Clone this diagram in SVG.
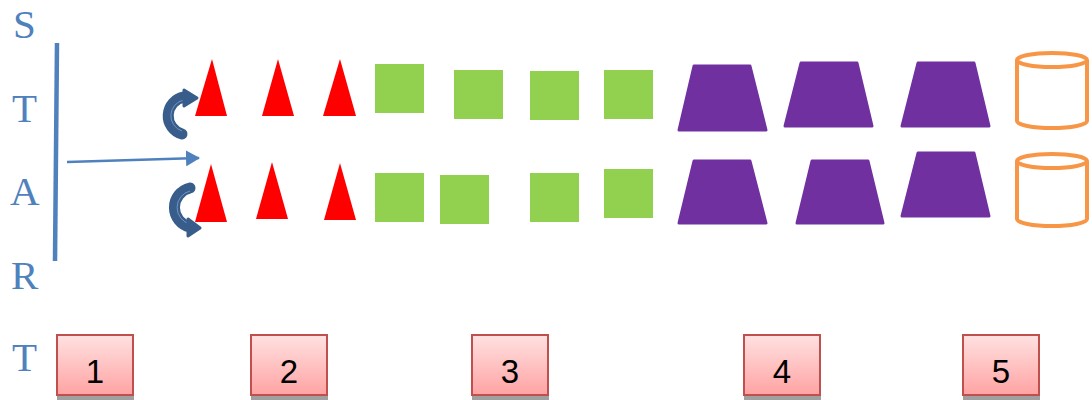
<svg xmlns="http://www.w3.org/2000/svg" width="1092" height="400" viewBox="0 0 1092 400">
<defs>
<linearGradient id="pink" x1="0" y1="0" x2="0" y2="1">
<stop offset="0" stop-color="#FFE1E1"/>
<stop offset="1" stop-color="#FFA3A3"/>
</linearGradient>
<marker id="ah" markerWidth="14" markerHeight="16" refX="13" refY="8" orient="auto" markerUnits="userSpaceOnUse" viewBox="0 0 14 16">
<path d="M0,0 L14,8 L0,16 Z" fill="#4F81BD"/>
</marker>
</defs>
<style>
.lt{font-family:"Liberation Serif","Times New Roman",serif;font-size:41px;fill:#4F81BD}
.tri{fill:#FF0000}
.sq{fill:#92D050}
.trap{fill:#7030A0;stroke:#7030A0;stroke-width:3;stroke-linejoin:round}
.cyl{fill:#FFFFFF;stroke:#F79646;stroke-width:4}
.box{fill:url(#pink);stroke:#C0504D;stroke-width:2}
.shadow{fill:#A0A0A0}
.num{font-family:"Liberation Sans",Arial,sans-serif;font-size:33px;fill:#000;text-anchor:middle}
.curve{fill:none;stroke:#385D8A;stroke-width:11;stroke-linecap:round}
.hl{fill:none;stroke:#6F95C6;stroke-width:1}
.head{fill:#385D8A;stroke:#385D8A;stroke-width:3;stroke-linejoin:round}
</style>

<g id="start-label">
<text class="lt" x="13" y="38">S</text>
<text class="lt" x="12" y="122">T</text>
<text class="lt" x="10" y="205">A</text>
<text class="lt" x="11" y="289">R</text>
<text class="lt" x="12" y="371">T</text>
</g>

<g id="start-line">
<line x1="57" y1="43" x2="55" y2="261" stroke="#4F81BD" stroke-width="4.5"/>
</g>

<g id="connectors">
<line x1="67" y1="162" x2="199" y2="158" stroke="#4F81BD" stroke-width="2.5" marker-end="url(#ah)"/>
<g id="curve-top">
<path class="curve" d="M182 134 A19 19 0 0 1 184 97"/>
<path class="hl" d="M182 131 A16 16 0 0 1 184 100"/>
<polygon class="head" points="184,90 197,98 184,106"/>
</g>
<g id="curve-bottom">
<path class="curve" d="M190 188 A20 20 0 0 0 190 227"/>
<path class="hl" d="M190 191 A17 17 0 0 0 190 224"/>
<polygon class="head" points="188,219 200,228 188,236"/>
</g>
</g>

<g id="triangles">
<polygon class="tri" points="212,59 227,116 195,116"/>
<polygon class="tri" points="278,59 294,116 262,116"/>
<polygon class="tri" points="340,59 356,116 323,116"/>
<polygon class="tri" points="211,164 227,222 195,222"/>
<polygon class="tri" points="272,162 288,219 256,219"/>
<polygon class="tri" points="340,163 356,220 324,220"/>
</g>

<g id="squares">
<rect class="sq" x="375" y="64" width="49" height="49"/>
<rect class="sq" x="454" y="70" width="49" height="49"/>
<rect class="sq" x="530" y="71" width="49" height="49"/>
<rect class="sq" x="604" y="70" width="49" height="49"/>
<rect class="sq" x="375" y="173" width="49" height="49"/>
<rect class="sq" x="440" y="175" width="49" height="49"/>
<rect class="sq" x="530" y="173" width="49" height="49"/>
<rect class="sq" x="604" y="169" width="49" height="49"/>
</g>

<g id="trapezoids">
<polygon class="trap" points="694,66 750,66 766,130 679,130"/>
<polygon class="trap" points="801,63 857,63 872,126 785,126"/>
<polygon class="trap" points="918,63 974,63 989,126 902,126"/>
<polygon class="trap" points="694,161 750,161 766,223 679,223"/>
<polygon class="trap" points="812,161 868,161 883,223 797,223"/>
<polygon class="trap" points="918,153 974,153 989,216 902,216"/>
</g>

<g id="cylinder-top">
<path class="cyl" d="M1017 60 L1017 121 A35 7 0 0 0 1087 121 L1087 60"/>
<ellipse class="cyl" cx="1052" cy="60" rx="35" ry="7"/>
</g>
<g id="cylinder-bottom">
<path class="cyl" d="M1017 161 L1017 219 A35 7 0 0 0 1087 219 L1087 161"/>
<ellipse class="cyl" cx="1052" cy="161" rx="35" ry="7"/>
</g>

<g id="box1">
<rect class="shadow" x="57" y="393" width="77" height="7"/>
<rect class="box" x="57" y="335" width="76" height="60"/>
<text class="num" x="95" y="383">1</text>
</g>
<g id="box2">
<rect class="shadow" x="251" y="393" width="77" height="7"/>
<rect class="box" x="251" y="335" width="76" height="60"/>
<text class="num" x="289" y="383">2</text>
</g>
<g id="box3">
<rect class="shadow" x="472" y="393" width="77" height="7"/>
<rect class="box" x="472" y="335" width="76" height="60"/>
<text class="num" x="510" y="383">3</text>
</g>
<g id="box4">
<rect class="shadow" x="744" y="393" width="77" height="7"/>
<rect class="box" x="744" y="335" width="76" height="60"/>
<text class="num" x="782" y="383">4</text>
</g>
<g id="box5">
<rect class="shadow" x="963" y="393" width="77" height="7"/>
<rect class="box" x="963" y="335" width="76" height="60"/>
<text class="num" x="1001" y="383">5</text>
</g>
</svg>
